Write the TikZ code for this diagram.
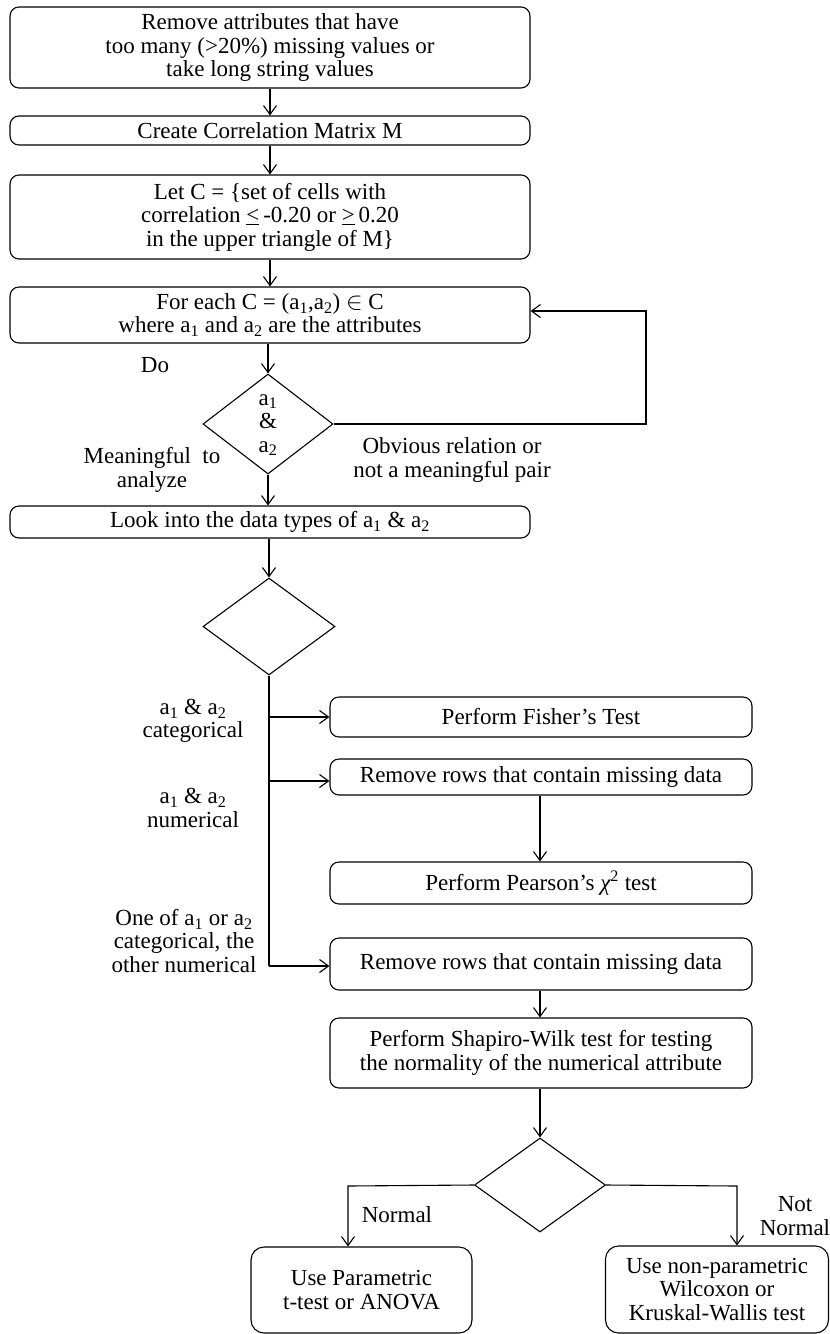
\documentclass[tikz,border=0pt]{standalone}
\usepackage{fontspec}
\setmainfont{Liberation Serif}
\usetikzlibrary{shapes.geometric,arrows.meta}
\begin{document}
\begin{tikzpicture}[x=1pt,y=-1pt,
  every node/.style={font=\fontsize{23}{23.5}\selectfont},
  box/.style={draw,rounded corners=9pt,line width=1.1pt,align=center,inner sep=0pt},
  dia/.style={draw,diamond,line width=1.1pt,inner sep=0pt},
  lbl/.style={align=center,inner sep=0pt},
  conn/.style={line width=1.1pt},
  arr/.style={conn,-{Straight Barb[length=9pt,width=13pt,line width=1.1pt]}}]
\useasboundingbox (0,0) rectangle (830,1334);
% boxes
\node[box,minimum width=520,minimum height=81] (b1) at (270,47.5) {Remove attributes that have\\too many (>20\%) missing values or\\take long string values};
\node[box,minimum width=520,minimum height=29] (b2) at (270,130.5) {Create Correlation Matrix M};
\node[box,minimum width=520,minimum height=84] (b3) at (270,217) {Let C = \{set of cells with\\correlation \underline{<}\,-0.20 or \underline{>}\,0.20\\in the upper triangle of M\}};
\node[box,minimum width=520,minimum height=56] (b4) at (270,315) {For each C = (a\textsubscript{1},a\textsubscript{2}) $\in$ C\\where a\textsubscript{1} and a\textsubscript{2} are the attributes};
\node[dia,minimum width=130,minimum height=100] (d1) at (268,424) {};
\node[lbl] (d1t) at (268,425) {a\textsubscript{1}\\\&\\a\textsubscript{2}};
\node[box,minimum width=520,minimum height=32] (b5) at (270,522) {Look into the data types of a\textsubscript{1} \& a\textsubscript{2}};
\node[dia,minimum width=132,minimum height=97] (d2) at (269,626.5) {};
\node[box,minimum width=422,minimum height=40] (fi) at (541,717) {Perform Fisher’s Test};
\node[box,minimum width=422,minimum height=36] (r1) at (541,777) {Remove rows that contain missing data};
\node[box,minimum width=422,minimum height=42] (pe) at (541,883) {Perform Pearson’s {\itshape χ}\textsuperscript{2} test};
\node[box,minimum width=422,minimum height=52] (r2) at (541,964) {Remove rows that contain missing data};
\node[box,minimum width=422,minimum height=70] (sw) at (541,1053) {Perform Shapiro-Wilk test for testing\\the normality of the numerical attribute};
\node[dia,minimum width=131,minimum height=94] (d3) at (540,1185) {};
\node[box,rounded corners=13pt,minimum width=221,minimum height=86] (pa) at (361.5,1290) {Use Parametric\\t-test or ANOVA};
\node[box,rounded corners=13pt,minimum width=223,minimum height=87] (np) at (717,1289.5) {Use non-parametric\\Wilcoxon or\\Kruskal-Wallis test};
% labels
\node[lbl] (ldo) at (155,365) {Do};
\node[lbl] (lmean) at (152,470) {Meaningful~ to\\analyze};
\node[lbl] (lobv) at (452,460) {Obvious relation or\\not a meaningful pair};
\node[lbl] (lcat) at (193,721) {a\textsubscript{1} \& a\textsubscript{2}\\categorical};
\node[lbl] (lnum) at (193,808) {a\textsubscript{1} \& a\textsubscript{2}\\numerical};
\node[lbl] (lone) at (184,941) {One of a\textsubscript{1} or a\textsubscript{2}\\categorical, the\\other numerical};
\node[lbl] (lnor) at (397,1215) {Normal};
\node[lbl] (lnot) at (795,1216) {Not\\Normal};
% coordinates
\coordinate (la) at (646,424);
\coordinate (lb) at (646,311);
\coordinate (sp) at (269,966);
\coordinate (pl) at (348,1186);
\coordinate (pr) at (737,1186);
% connectors
\draw[arr] (b1) -- (b2);
\draw[arr] (b2) -- (b3);
\draw[arr] (b3) -- (b4);
\draw[arr] (b4.south -| d1.north) -- (d1.north);
\draw[arr] (d1.south) -- (d1.south |- b5.north);
\draw[arr] (d1.east) -- (la) -- (lb) -- (lb -| b4.east);
\draw[arr] (b5.south -| d2.north) -- (d2.north);
\draw[conn] (d2.south) -- (sp);
\draw[arr] (d2.south |- fi.west) -- (fi.west);
\draw[arr] (269,781) -- (r1.west |- 0,781);
\draw[arr] (sp) -- (sp -| r2.west);
\draw[arr] (r1.south -| 540,0) -- (pe.north -| 540,0);
\draw[arr] (r2.south -| 540,0) -- (sw.north -| 540,0);
\draw[arr] (sw.south -| 540,0) -- (d3.north);
\draw[arr] (d3.west) -- (pl) -- (pl |- pa.north);
\draw[arr] (d3.east) -- (pr) -- (pr |- np.north);
\end{tikzpicture}
\end{document}
